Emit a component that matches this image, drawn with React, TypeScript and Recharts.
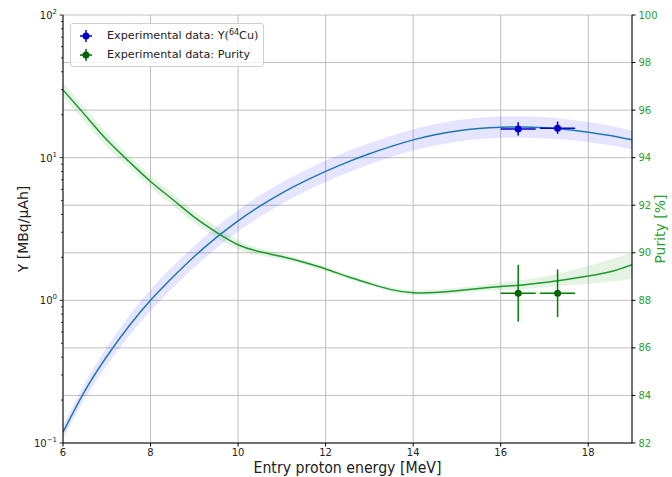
import React from "react";
import {
  ComposedChart,
  Line,
  Area,
  Scatter,
  ErrorBar,
  CartesianGrid,
  XAxis,
  YAxis,
  Label,
} from "recharts";

// simulated curves, sampled every 0.5 MeV
const energies = [6, 6.5, 7, 7.5, 8, 8.5, 9, 9.5, 10, 10.5, 11, 11.5, 12, 12.5, 13, 13.5, 14, 14.5, 15, 15.5, 16, 16.5, 17, 17.5, 18, 18.5, 19];
const yieldCurve = [0.119, 0.232, 0.404, 0.655, 1.0, 1.445, 2.03, 2.75, 3.61, 4.58, 5.65, 6.79, 8.02, 9.31, 10.64, 12.0, 13.33, 14.49, 15.38, 16.0, 16.33, 16.41, 16.18, 15.74, 15.1, 14.29, 13.33];
const yieldLow = [0.107, 0.204, 0.348, 0.557, 0.841, 1.215, 1.707, 2.313, 3.036, 3.85, 4.75, 5.71, 6.75, 7.83, 8.95, 10.09, 11.21, 12.19, 12.94, 13.46, 13.73, 13.8, 13.61, 13.34, 12.85, 12.22, 11.45];
const yieldHigh = [0.132, 0.263, 0.469, 0.77, 1.189, 1.718, 2.414, 3.27, 4.29, 5.45, 6.72, 8.07, 9.54, 11.07, 12.65, 14.27, 15.85, 17.23, 18.29, 19.02, 19.42, 19.51, 19.24, 18.57, 17.75, 16.71, 15.52];
const purityCurve = [96.85, 95.8, 94.75, 93.85, 93.0, 92.25, 91.5, 90.87, 90.34, 90.04, 89.84, 89.6, 89.32, 89.0, 88.71, 88.45, 88.32, 88.33, 88.4, 88.5, 88.58, 88.65, 88.75, 88.88, 89.02, 89.2, 89.5];
const purityLow = [96.55, 95.5, 94.45, 93.6, 92.75, 92.0, 91.25, 90.64, 90.14, 89.89, 89.72, 89.5, 89.22, 88.91, 88.63, 88.36, 88.22, 88.22, 88.28, 88.37, 88.43, 88.48, 88.55, 88.62, 88.7, 88.78, 88.9];
const purityHigh = [97.15, 96.1, 95.05, 94.1, 93.25, 92.5, 91.75, 91.1, 90.54, 90.19, 89.96, 89.7, 89.42, 89.09, 88.79, 88.54, 88.42, 88.44, 88.52, 88.63, 88.73, 88.85, 89.0, 89.2, 89.45, 89.72, 90.0];

// measurements
const expEnergy = [16.4, 17.3];
const expEnergyErr = [0.4, 0.4];
const expYield = [15.9, 16.1];
const expYieldErr = [[1.6, 1.8], [1.4, 1.8]];
const expPurity = [88.3, 88.3];
const expPurityErr = [[1.2, 1.2], [1.0, 1.0]];

const xTicks = [6, 8, 10, 12, 14, 16, 18];
const leftTicks = [0.1, 0.2, 0.3, 0.4, 0.5, 0.6, 0.7, 0.8, 0.9, 1, 2, 3, 4, 5, 6, 7, 8, 9, 10, 20, 30, 40, 50, 60, 70, 80, 90, 100];
const rightTicks = [82, 84, 86, 88, 90, 92, 94, 96, 98, 100];

const curveData = energies.map((energy, i) => ({
  energy,
  y: yieldCurve[i],
  yBand: [yieldLow[i], yieldHigh[i]],
  p: purityCurve[i],
  pBand: [purityLow[i], purityHigh[i]],
}));

const yieldPoints = expEnergy.map((energy, i) => ({
  energy,
  y: expYield[i],
  xErr: expEnergyErr[i],
  yErr: expYieldErr[i],
}));

const purityPoints = expEnergy.map((energy, i) => ({
  energy,
  p: expPurity[i],
  xErr: expEnergyErr[i],
  pErr: expPurityErr[i],
}));

const FONT = "DejaVu Sans";
const GREEN = "#2ca02c";

function LogTick(props: any) {
  const { x, y, payload } = props;
  const lg = Math.log10(payload.value);
  const exp = Math.round(lg);
  const major = Math.abs(lg - exp) < 1e-6;
  return (
    <g>
      <line x1={x - (major ? 3.5 : 2)} x2={x} y1={y} y2={y} stroke="#000" strokeWidth={0.8} />
      {major && (
        <text x={x - 6} y={y + 4} textAnchor="end" fontSize={10} fontFamily={FONT} fill="#222">
          10
          <tspan dy={-5} fontSize={7}>{exp < 0 ? "\u2212" + -exp : exp}</tspan>
        </text>
      )}
    </g>
  );
}

function Marker({ color }: { color: string }) {
  return (
    <svg width={14} height={14} style={{ display: "block", flex: "none" }}>
      <line x1={1} x2={13} y1={7} y2={7} stroke={color} strokeWidth={1.5} />
      <line x1={7} x2={7} y1={1} y2={13} stroke={color} strokeWidth={1.5} />
      <circle cx={7} cy={7} r={3.5} fill={color} />
    </svg>
  );
}

function LegendBox() {
  const row = { display: "flex", alignItems: "center", height: 19, whiteSpace: "nowrap" } as const;
  return (
    <div
      style={{
        position: "absolute",
        left: 70,
        top: 23,
        border: "1px solid #d0d0d0",
        borderRadius: 3,
        background: "rgba(255,255,255,0.8)",
        padding: "2px 5px 2px 8px",
        fontFamily: FONT,
        fontSize: 11.2,
        color: "#222",
      }}
    >
      <div style={row}>
        <Marker color="#0000cc" />
        <span style={{ marginLeft: 14 }}>
          Experimental data: Y(<span style={{ fontSize: 8, position: "relative", top: -4 }}>64</span>Cu)
        </span>
      </div>
      <div style={row}>
        <Marker color="#006400" />
        <span style={{ marginLeft: 14 }}>Experimental data: Purity</span>
      </div>
    </div>
  );
}

export default function App() {
  return (
    <div style={{ position: "absolute", left: 0, top: 0, width: 672, height: 477, background: "#fff" }}>
      <ComposedChart width={672} height={477} data={curveData} margin={{ top: 15, right: 0, bottom: 0, left: 0 }}>
        <CartesianGrid yAxisId="right" stroke="#c0c0c0" strokeWidth={1} />
        <XAxis
          dataKey="energy"
          type="number"
          domain={[6, 19]}
          ticks={xTicks}
          allowDataOverflow
          height={34}
          axisLine={{ stroke: "#000" }}
          tickLine={{ stroke: "#000" }}
          tickSize={3.5}
          tickMargin={2}
          tick={{ fontSize: 10, fontFamily: FONT, fill: "#222" }}
        >
          <Label
            content={({ viewBox }: any) => (
              <text
                x={viewBox.x + viewBox.width / 2}
                y={viewBox.y + 30}
                textAnchor="middle"
                fontSize={15}
                fontFamily={FONT}
                fill="#222"
                textLength={188}
                lengthAdjust="spacingAndGlyphs"
              >
                Entry proton energy [MeV]
              </text>
            )}
          />
        </XAxis>
        <XAxis xAxisId="top" orientation="top" type="number" domain={[6, 19]} height={0} tick={false} tickLine={false} axisLine={{ stroke: "#000" }} />
        <YAxis
          yAxisId="left"
          scale="log"
          type="number"
          domain={[0.1, 100]}
          ticks={leftTicks}
          allowDataOverflow
          width={63}
          axisLine={{ stroke: "#000" }}
          tickLine={false}
          tickSize={0}
          tickMargin={0}
          tick={<LogTick />}
          interval={0}
        >
          <Label
            content={({ viewBox }: any) => {
              const cx = viewBox.x + 28;
              const cy = viewBox.y + viewBox.height / 2;
              return (
                <text x={cx} y={cy} transform={`rotate(-90 ${cx} ${cy})`} textAnchor="middle" fontSize={14} fontFamily={FONT} fill="#222">
                  Y [MBq/μAh]
                </text>
              );
            }}
          />
        </YAxis>
        <YAxis
          yAxisId="right"
          orientation="right"
          type="number"
          domain={[82, 100]}
          ticks={rightTicks}
          allowDataOverflow
          width={40}
          axisLine={{ stroke: "#000" }}
          tickLine={{ stroke: "#000" }}
          tickSize={3.5}
          tickMargin={3}
          tick={{ fontSize: 10, fontFamily: FONT, fill: GREEN }}
          interval={0}
        >
          <Label
            content={({ viewBox }: any) => {
              const cx = viewBox.x + 33;
              const cy = viewBox.y + viewBox.height / 2;
              return (
                <text x={cx} y={cy} transform={`rotate(-90 ${cx} ${cy})`} textAnchor="middle" fontSize={14} fontFamily={FONT} fill={GREEN}>
                  Purity [%]
                </text>
              );
            }}
          />
        </YAxis>

        <Area yAxisId="left" dataKey="yBand" type="natural" stroke="none" fill="#0000ff" fillOpacity={0.1} isAnimationActive={false} />
        <Area yAxisId="right" dataKey="pBand" type="natural" stroke="none" fill={GREEN} fillOpacity={0.12} isAnimationActive={false} />
        <Line yAxisId="left" dataKey="y" type="natural" stroke="#1f77b4" strokeWidth={1.5} dot={false} isAnimationActive={false} />
        <Line yAxisId="right" dataKey="p" type="natural" stroke="#1a9a2a" strokeWidth={1.5} dot={false} isAnimationActive={false} />

        <Scatter
          yAxisId="left"
          data={yieldPoints}
          dataKey="y"
          fill="#0000cc"
          shape={(p: any) => <circle cx={p.cx} cy={p.cy} r={3.5} fill="#0000cc" />}
          isAnimationActive={false}
        >
          <ErrorBar dataKey="xErr" direction="x" stroke="#0000cc" strokeWidth={1.5} width={0} />
          <ErrorBar dataKey="yErr" direction="y" stroke="#0000cc" strokeWidth={1.5} width={0} />
        </Scatter>
        <Scatter
          yAxisId="right"
          data={purityPoints}
          dataKey="p"
          fill="#006400"
          shape={(p: any) => <circle cx={p.cx} cy={p.cy} r={3.5} fill="#006400" />}
          isAnimationActive={false}
        >
          <ErrorBar dataKey="xErr" direction="x" stroke="#008000" strokeWidth={1.5} width={0} />
          <ErrorBar dataKey="pErr" direction="y" stroke="#008000" strokeWidth={1.5} width={0} />
        </Scatter>
      </ComposedChart>
      <LegendBox />
    </div>
  );
}
